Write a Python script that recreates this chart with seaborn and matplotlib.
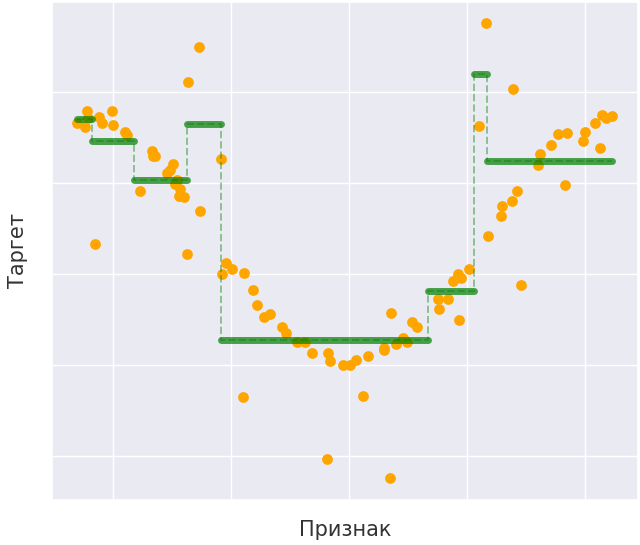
import numpy as np
import seaborn as sns
import matplotlib.pyplot as plt

# feature / target points
x_vals = [0.70, 0.76, 0.78, 0.79, 0.85, 0.88, 0.91, 0.99, 1.00, 1.10, 1.12,
          1.23, 1.33, 1.34, 1.36, 1.46, 1.48, 1.51, 1.53, 1.54, 1.56, 1.57, 1.60, 1.627,
          1.636, 1.73, 1.74, 1.917,
          1.924, 1.96, 2.01, 2.10, 2.11, 2.19, 2.22, 2.28, 2.33, 2.43, 2.47, 2.56, 2.63,
          2.69, 2.81, 2.82, 2.84, 2.95, 3.01, 3.06, 3.12, 3.16, 3.30, 3.30, 3.35, 3.36,
          3.40, 3.46, 3.49, 3.53, 3.58,
          3.75, 3.76, 3.84, 3.88, 3.92, 3.93, 3.95, 4.02,
          4.10, 4.16,
          4.18, 4.29, 4.30, 4.38, 4.39, 4.42, 4.46, 4.60, 4.62, 4.71, 4.77, 4.83, 4.85,
          4.98, 5.00, 5.08, 5.13, 5.14, 5.18, 5.23]
y_vals = [1.65, 1.61, 1.79, 1.71, 0.33, 1.72, 1.66, 1.79, 1.63, 1.56, 1.52,
          0.91, 1.35, 1.29, 1.29, 1.11, 1.14, 1.21, 0.99, 1.03, 0.85, 0.93, 0.84, 0.22,
          2.10, 2.49, 0.69, 1.26,
          0.00, 0.12, 0.05, -1.35, 0.01, -0.18, -0.34, -0.47, -0.44, -0.58, -0.65, -0.75, -0.75,
          -0.87, -2.03, -0.87, -0.95, -1.00, -1.00, -0.94, -1.34, -0.90, -0.81, -0.83, -2.24, -0.43,
          -0.77, -0.70, -0.75, -0.53, -0.58,
          -0.27, -0.39, -0.27, -0.08, 0.00, -0.51, -0.05, 0.05,
          1.62, 2.75,
          0.42, 0.63, 0.74, 0.80, 2.03, 0.91, -0.12, 1.19, 1.32, 1.41, 1.53, 0.98, 1.55,
          1.46, 1.56, 1.65, 1.38, 1.74, 1.71, 1.73]

# tree leaves: split edges and predicted value per leaf
leaf_edges = [0.70, 0.822, 1.178, 1.632, 1.92, 3.667, 4.059, 4.168, 5.23]
leaf_values = [1.70, 1.46, 1.03, 1.64, -0.72, -0.19, 2.19, 1.24]

sns.set_theme(style="darkgrid")
plt.rcParams['font.family'] = ['DejaVu Sans']

fig, ax = plt.subplots(figsize=(6.4, 5.45), dpi=100)
fig.subplots_adjust(left=0.081, right=0.997, top=0.996, bottom=0.083)

sns.scatterplot(x=x_vals, y=y_vals, color="orange", s=60, linewidth=0, ax=ax, zorder=2)

ax.hlines(leaf_values, leaf_edges[:-1], leaf_edges[1:], color="green", lw=5,
          alpha=0.7, capstyle="round", zorder=3)
ax.plot(leaf_edges, leaf_values + [leaf_values[-1]], drawstyle="steps-post",
        ls="--", color="green", lw=1.4, alpha=0.4, zorder=4)

ax.set_xlim(0.483, 5.449)
ax.set_ylim(-2.477, 2.98)
ax.set_xticks([1, 2, 3, 4, 5])
ax.set_yticks([-2, -1, 0, 1, 2])
ax.set_xticklabels([])
ax.set_yticklabels([])
ax.set_xlabel("Признак", fontsize=15, color="#333333", labelpad=5)
ax.set_ylabel("Таргет", fontsize=15, color="#333333", labelpad=8)

fig.savefig("out.png")
